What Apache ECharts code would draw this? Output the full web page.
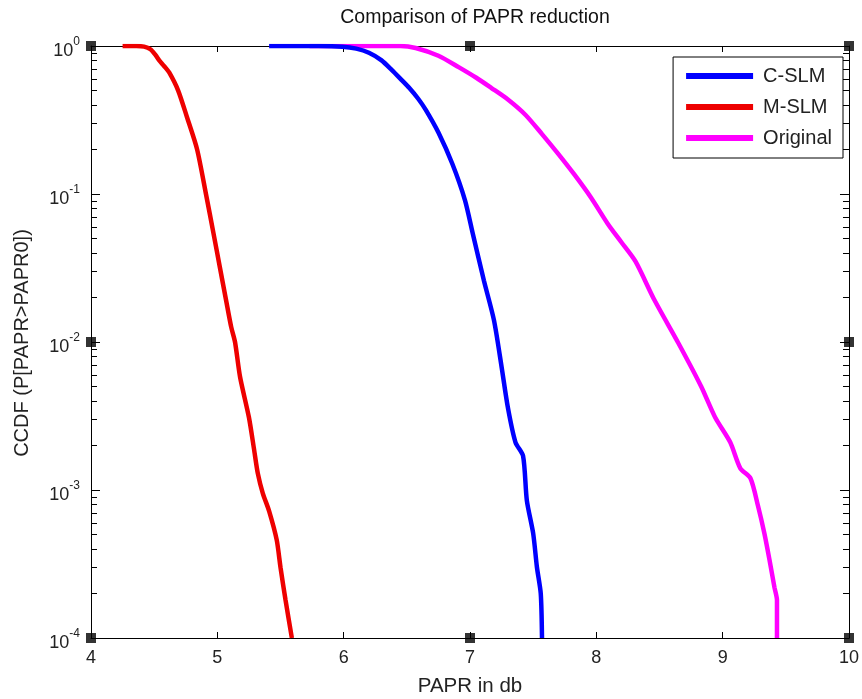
<!DOCTYPE html>
<html>
<head>
<meta charset="utf-8">
<script src="https://cdn.jsdelivr.net/npm/echarts@6/dist/echarts.min.js"></script>
<style>html,body{margin:0;padding:0;background:#fff;}#c{width:862px;height:699px;}</style>
</head>
<body>
<div id="c"></div>
<script>
// ---- data ----
var titleText = 'Comparison of PAPR reduction';
var xLabel = 'PAPR in db';
var yLabel = 'CCDF (P[PAPR>PAPR0])';
var seriesNames = ['C-SLM', 'M-SLM', 'Original'];

var cslmX = [5.41, 5.80, 5.99, 6.10, 6.20, 6.30, 6.38, 6.45, 6.52, 6.59, 6.65, 6.75, 6.86, 6.96, 7.02, 7.11, 7.19, 7.25, 7.30, 7.36, 7.42, 7.45, 7.50, 7.53, 7.56, 7.57];
var cslmY = [1.0, 1.0, 0.99, 0.96, 0.90, 0.80, 0.69, 0.60, 0.52, 0.44, 0.37, 0.26, 0.16, 0.091, 0.055, 0.026, 0.014, 0.0068, 0.0036, 0.0021, 0.0017, 0.00085, 0.00051, 0.0003, 0.0002, 0.0001];

var mslmX = [4.25, 4.36, 4.42, 4.47, 4.51, 4.54, 4.58, 4.62, 4.69, 4.76, 4.84, 4.91, 4.97, 5.02, 5.07, 5.11, 5.14, 5.18, 5.25, 5.29, 5.32, 5.36, 5.41, 5.47, 5.50, 5.54, 5.59];
var mslmY = [1.0, 1.0, 0.99, 0.95, 0.87, 0.80, 0.73, 0.66, 0.50, 0.33, 0.20, 0.10, 0.054, 0.032, 0.019, 0.0126, 0.010, 0.0058, 0.0031, 0.0019, 0.0013, 0.00095, 0.00072, 0.00046, 0.0003, 0.00018, 0.0001];

var origX = [5.73, 6.20, 6.45, 6.57, 6.75, 6.91, 7.05, 7.17, 7.30, 7.44, 7.57, 7.70, 7.83, 7.96, 8.09, 8.20, 8.31, 8.46, 8.65, 8.83, 8.94, 9.06, 9.14, 9.22, 9.28, 9.33, 9.37, 9.41, 9.43, 9.43];
var origY = [1.0, 1.0, 1.0, 0.97, 0.86, 0.72, 0.61, 0.52, 0.435, 0.342, 0.254, 0.186, 0.134, 0.094, 0.063, 0.047, 0.035, 0.0192, 0.0098, 0.005, 0.0031, 0.0021, 0.0014, 0.0012, 0.00078, 0.00051, 0.00034, 0.00022, 0.00018, 0.0001];

var xTicks = [4, 5, 6, 7, 8, 9, 10];
var yDecades = [1e-4, 1e-3, 1e-2, 1e-1, 1];
var yMinor = [2e-4,3e-4,4e-4,5e-4,6e-4,7e-4,8e-4,9e-4,
              2e-3,3e-3,4e-3,5e-3,6e-3,7e-3,8e-3,9e-3,
              2e-2,3e-2,4e-2,5e-2,6e-2,7e-2,8e-2,9e-2,
              0.2,0.3,0.4,0.5,0.6,0.7,0.8,0.9];
// figure edit handles visible in the reference
var handleX = [4, 7, 10, 4, 10, 4, 7, 10];
var handleY = [1, 1, 1, 0.01, 0.01, 1e-4, 1e-4, 1e-4];

function pairs(xs, ys) { return xs.map(function (x, i) { return [x, ys[i]]; }); }

var FONT = 'Liberation Sans, Arial, sans-serif';
var chart = echarts.init(document.getElementById('c'), null, {renderer: 'canvas'});

function yAx(pos, major, labels) {
  return {
    type: 'log', logBase: 10, min: 1e-4, max: 1, position: pos,
    axisLine: {show: major, lineStyle: {color: '#000', width: 1}},
    axisTick: {show: true, inside: true, length: major ? 9 : 6,
               customValues: major ? yDecades : yMinor,
               lineStyle: {color: '#000', width: 1}},
    minorTick: {show: false},
    splitLine: {show: false},
    axisLabel: {
      show: labels, margin: 11, fontFamily: FONT, color: '#222',
      customValues: yDecades,
      formatter: function (v) {
        var e = Math.round(Math.log10(v));
        return '{b|10}{s|' + e + '}';
      },
      rich: {
        b: {fontSize: 18, fontFamily: FONT, color: '#222', padding: [10, 0, 0, 0]},
        s: {fontSize: 12, fontFamily: FONT, color: '#222', padding: [0, 0, 8, 0]}
      }
    }
  };
}

function xAx(pos, labels) {
  return {
    type: 'value', min: 4, max: 10, interval: 1, position: pos,
    axisLine: {show: true, onZero: false, lineStyle: {color: '#000', width: 1}},
    axisTick: {show: true, inside: true, length: 6, lineStyle: {color: '#000'}},
    splitLine: {show: false},
    axisLabel: {show: labels, fontSize: 18, fontFamily: FONT, color: '#222', margin: 11}
  };
}

var option = {
  backgroundColor: '#fff',
  animation: false,
  title: {
    text: titleText, left: 470, top: 3, textAlign: 'center',
    textStyle: {fontSize: 19.5, fontWeight: 'normal', fontFamily: FONT, color: '#111'}
  },
  grid: {left: 91, right: 10, top: 46, bottom: 61, containLabel: false},
  xAxis: [xAx('bottom', true), xAx('top', false)],
  yAxis: [yAx('left', true, true), yAx('left', false, false), yAx('right', true, false), yAx('right', false, false)],
  legend: {
    data: seriesNames,
    orient: 'vertical', right: 19, top: 57,
    backgroundColor: '#fff', borderColor: '#000', borderWidth: 1,
    padding: [9, 11, 10, 13], itemGap: 11,
    icon: 'rect', itemWidth: 67, itemHeight: 6,
    textStyle: {fontSize: 20, fontFamily: FONT, color: '#222', padding: [0, 0, 0, 5]}
  },
  textStyle: {fontFamily: FONT},
  graphic: [
    {type: 'text', x: 470, y: 686, style: {text: xLabel, fontSize: 20.5, fontFamily: FONT, fill: '#222', textAlign: 'center', textVerticalAlign: 'middle'}},
    {type: 'text', rotation: Math.PI / 2, x: 22, y: 343, style: {text: yLabel, fontSize: 20, fontFamily: FONT, fill: '#222', textAlign: 'center', textVerticalAlign: 'middle'}}
  ],
  series: [
    {name: 'C-SLM', type: 'line', data: pairs(cslmX, cslmY), showSymbol: false, symbol: 'none', smooth: 0.25, color: '#0000ff', lineStyle: {width: 4.5, color: '#0000ff'}, z: 3},
    {name: 'M-SLM', type: 'line', data: pairs(mslmX, mslmY), showSymbol: false, symbol: 'none', smooth: 0.25, color: '#ee0000', lineStyle: {width: 4.5, color: '#ee0000'}, z: 3},
    {name: 'Original', type: 'line', data: pairs(origX, origY), showSymbol: false, symbol: 'none', smooth: 0.25, color: '#ff00ff', lineStyle: {width: 4.5, color: '#ff00ff'}, z: 2},
    {name: 'handles', type: 'scatter', data: pairs(handleX, handleY), symbol: 'rect', symbolSize: 10, itemStyle: {color: '#000'}, clip: false, z: 5, silent: true}
  ]
};
chart.setOption(option);
</script>
</body>
</html>
